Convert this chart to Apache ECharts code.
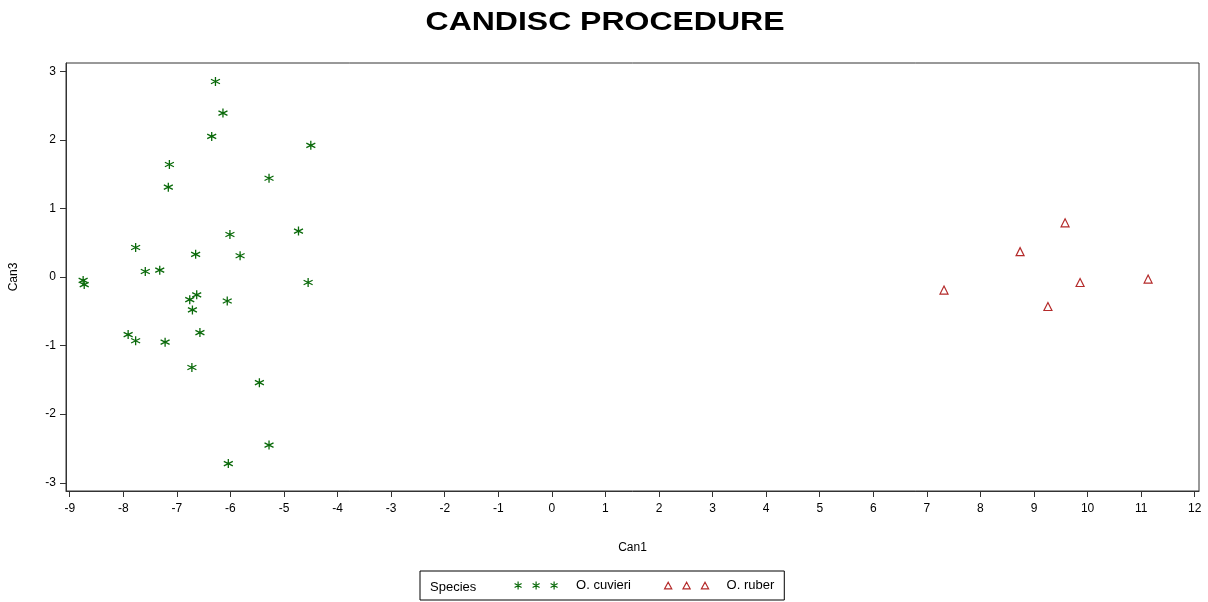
<!DOCTYPE html>
<html>
<head>
<meta charset="utf-8">
<script src="https://cdn.jsdelivr.net/npm/echarts@6/dist/echarts.min.js"></script>
<style>
html,body{margin:0;padding:0;background:#fff;}
#chart{width:1208px;height:602px;}
</style>
</head>
<body>
<div id="chart"></div>
<script>
// ---- data ----
const titleText = 'CANDISC PROCEDURE';
const xName = 'Can1';
const yName = 'Can3';
const legendTitle = 'Species';
const seriesNames = ['O. cuvieri', 'O. ruber'];
const xTicks = [-9,-8,-7,-6,-5,-4,-3,-2,-1,0,1,2,3,4,5,6,7,8,9,10,11,12];
const yTicks = [-3,-2,-1,0,1,2,3];
// O. cuvieri: [Can1, Can3]
const cuvieriCan1 = [-6.28,-6.14,-6.35,-4.50,-7.14,-7.16,-5.28,-6.01,-4.73,-7.77,-6.65,-5.82,-7.59,-7.32,-8.75,-8.73,-4.55,-6.76,-6.63,-6.71,-6.06,-7.91,-7.77,-7.22,-6.57,-6.72,-5.46,-5.28,-6.04];
const cuvieriCan3 = [2.85,2.39,2.05,1.92,1.64,1.31,1.44,0.62,0.67,0.43,0.33,0.31,0.08,0.10,-0.05,-0.11,-0.08,-0.33,-0.26,-0.48,-0.35,-0.84,-0.93,-0.95,-0.81,-1.32,-1.54,-2.45,-2.72];
// O. ruber
const ruberCan1 = [9.58,8.74,7.32,9.86,11.13,9.26];
const ruberCan3 = [0.79,0.37,-0.19,-0.08,-0.03,-0.43];

const green = '#0a6a0a';
const red = '#b42a2a';
const starPath = 'path://M5,0L5,10M0.67,2.5L9.33,7.5M0.67,7.5L9.33,2.5';
const starLegend = 'path://M4,0L4,8M0.5,2L7.5,6M0.5,6L7.5,2M22,0L22,8M18.5,2L25.5,6M18.5,6L25.5,2M40,0L40,8M36.5,2L43.5,6M36.5,6L43.5,2';
const triLegend = 'path://M0.5,7L4,0.5L7.5,7ZM18.5,7L22,0.5L25.5,7ZM36.5,7L40,0.5L43.5,7Z';

const zip = (a, b) => a.map((v, i) => [v, b[i]]);

const chart = echarts.init(document.getElementById('chart'), null, {renderer: 'canvas'});
const font = 'Liberation Sans, Arial, sans-serif';
chart.setOption({
  backgroundColor: '#fff',
  animation: false,
  textStyle: {fontFamily: font},
  grid: {left: 66, right: 9, top: 63, bottom: 111, show: true, borderColor: '#333', borderWidth: 1, backgroundColor: 'transparent'},
  xAxis: {
    type: 'value', min: -9.07, max: 12.08,
    name: xName, nameLocation: 'middle', nameGap: 51,
    nameTextStyle: {color: '#000', fontSize: 12, fontFamily: font},
    axisLine: {show: true, onZero: false, lineStyle: {color: '#333', width: 1}},
    axisTick: {show: true, length: 6, customValues: xTicks, lineStyle: {color: '#333'}},
    axisLabel: {show: true, customValues: xTicks, margin: 12, color: '#000', fontSize: 12, fontFamily: font},
    splitLine: {show: false}
  },
  yAxis: {
    type: 'value', min: -3.12, max: 3.12,
    name: yName, nameLocation: 'middle', nameGap: 46, nameRotate: 90,
    nameTextStyle: {color: '#000', fontSize: 12, fontFamily: font},
    axisLine: {show: true, onZero: false, lineStyle: {color: '#333', width: 1}},
    axisTick: {show: true, length: 6, customValues: yTicks, lineStyle: {color: '#333'}},
    axisLabel: {show: true, customValues: yTicks, margin: 10, color: '#000', fontSize: 12, fontFamily: font},
    splitLine: {show: false}
  },
  legend: {
    left: 420, top: 571,
    orient: 'horizontal',
    padding: [8, 10, 8, 94],
    borderColor: '#000', borderWidth: 1,
    itemWidth: 44, itemHeight: 8, itemGap: 33,
    itemStyle: {borderWidth: 1.2},
    textStyle: {color: '#000', fontSize: 13, fontFamily: font, padding: [0, 0, 0, 13]},
    selectedMode: false,
    data: [
      {name: seriesNames[0], icon: starLegend},
      {name: seriesNames[1], icon: triLegend}
    ]
  },
  graphic: [
    {type: 'text', x: 605, y: 23, scaleX: 1.23, z: 10,
     style: {text: titleText, font: 'bold 26px ' + font, fill: '#000', textAlign: 'center', textVerticalAlign: 'middle'}},
    {type: 'text', x: 430, y: 587, z: 10,
     style: {text: legendTitle, font: '13px ' + font, fill: '#000', textAlign: 'left', textVerticalAlign: 'middle'}}
  ],
  series: [
    {
      name: seriesNames[0], type: 'scatter',
      symbol: starPath, symbolSize: 9,
      itemStyle: {color: green, borderColor: green, borderWidth: 1.3, opacity: 1},
      data: zip(cuvieriCan1, cuvieriCan3)
    },
    {
      name: seriesNames[1], type: 'scatter',
      symbol: 'triangle', symbolSize: 8,
      itemStyle: {color: 'rgba(255,255,255,0)', borderColor: red, borderWidth: 1.2, opacity: 1},
      data: zip(ruberCan1, ruberCan3)
    }
  ]
});
</script>
</body>
</html>
